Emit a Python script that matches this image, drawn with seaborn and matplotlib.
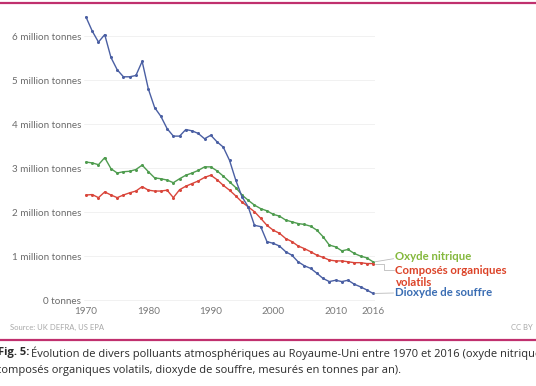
import matplotlib
matplotlib.use("Agg")
import matplotlib.pyplot as plt
import numpy as np
import pandas as pd
import seaborn as sns

# emissions, million tonnes per year (UK, 1970-2016)
years = list(range(1970, 2017))
oxyde_nitrique = [3.14, 3.12, 3.08, 3.24, 2.99, 2.89, 2.92, 2.93, 2.97, 3.07,
                  2.92, 2.78, 2.76, 2.73, 2.67, 2.76, 2.84, 2.89, 2.95, 3.03,
                  3.03, 2.94, 2.82, 2.69, 2.56, 2.39, 2.27, 2.16, 2.08, 2.03,
                  1.95, 1.91, 1.82, 1.78, 1.74, 1.72, 1.68, 1.59, 1.44, 1.25,
                  1.21, 1.12, 1.15, 1.06, 1.00, 0.96, 0.87]
composes_organiques = [2.39, 2.40, 2.33, 2.46, 2.39, 2.33, 2.39, 2.44, 2.48, 2.58,
                       2.50, 2.48, 2.48, 2.50, 2.33, 2.51, 2.59, 2.65, 2.71, 2.79,
                       2.84, 2.74, 2.61, 2.50, 2.37, 2.23, 2.12, 2.01, 1.86, 1.70,
                       1.59, 1.52, 1.40, 1.33, 1.23, 1.17, 1.10, 1.02, 0.97, 0.91,
                       0.89, 0.89, 0.87, 0.85, 0.85, 0.83, 0.83]
dioxyde_souffre = [6.44, 6.12, 5.87, 6.04, 5.52, 5.24, 5.08, 5.08, 5.11, 5.43,
                   4.80, 4.38, 4.18, 3.90, 3.73, 3.73, 3.88, 3.85, 3.79, 3.67,
                   3.75, 3.60, 3.48, 3.18, 2.73, 2.35, 2.12, 1.70, 1.67, 1.33,
                   1.29, 1.23, 1.10, 1.02, 0.87, 0.78, 0.72, 0.61, 0.49, 0.42,
                   0.45, 0.42, 0.45, 0.36, 0.30, 0.23, 0.15]

series_names = ["Oxyde nitrique", "Composés organiques volatils", "Dioxyde de souffre"]
line_colors = ["#4f9c4f", "#d9463b", "#4a5fa3"]
label_colors = ["#84b83c", "#dc4328", "#3a6db3"]
y_ticks = [0, 1, 2, 3, 4, 5, 6]
y_tick_labels = ["0 tonnes", "1 million tonnes", "2 million tonnes", "3 million tonnes",
                 "4 million tonnes", "5 million tonnes", "6 million tonnes"]
x_ticks = [1970, 1980, 1990, 2000, 2010, 2016]

df = pd.DataFrame({
    "year": years * 3,
    "value": oxyde_nitrique + composes_organiques + dioxyde_souffre,
    "serie": [series_names[0]] * len(years) + [series_names[1]] * len(years)
             + [series_names[2]] * len(years),
})

sns.set_style("white")
plt.rcParams["font.family"] = ["Lato", "DejaVu Sans"]

W, H = 536, 386
fig = plt.figure(figsize=(W / 100, H / 100), dpi=100)
fig.patch.set_facecolor("white")

# axes: x 84..375 px, y 10..302 px
ax = fig.add_axes([84 / W, 1 - 302 / H, (375 - 84) / W, (302 - 10) / H])
sns.lineplot(data=df, x="year", y="value", hue="serie", hue_order=series_names,
             palette=line_colors, marker="o", markersize=2.2, markeredgewidth=0,
             linewidth=1.0, legend=False, ax=ax)

ax.set_xlim(1969.68, 2016.32)
ax.set_ylim(-0.045, 6.6)
ax.set_yticks(y_ticks)
ax.set_yticklabels(y_tick_labels)
ax.set_xticks(x_ticks)
ax.set_xticklabels([str(t) for t in x_ticks])
ax.tick_params(axis="y", length=0, pad=2, labelsize=7.1, labelcolor="#6b6b6b")
ax.tick_params(axis="x", length=0, pad=3.5, labelsize=7.2, labelcolor="#7a7a7a")
ax.set_xlabel("")
ax.set_ylabel("")
ax.grid(axis="y", color="#efefef", linewidth=0.6)
for s in ax.spines.values():
    s.set_visible(False)

# end-of-line labels with gray connectors
ends = [oxyde_nitrique[-1], composes_organiques[-1], dioxyde_souffre[-1]]
lab_x = 2019.6
lab_y = [0.98, 0.68, 0.16]
ax.plot([2016.3, 2019.3], [ends[0], lab_y[0] - 0.04], color="#bbbbbb", lw=0.6, clip_on=False)
ax.plot([2016.3, 2017.8, 2017.8, 2019.3], [ends[1], ends[1], lab_y[1], lab_y[1]],
        color="#bbbbbb", lw=0.6, clip_on=False)
ax.plot([2016.3, 2019.3], [ends[2], lab_y[2]], color="#bbbbbb", lw=0.6, clip_on=False)
lab_kw = dict(fontsize=8.2, fontweight="bold", va="center", ha="left", clip_on=False)
ax.text(lab_x, lab_y[0], "Oxyde nitrique", color=label_colors[0], **lab_kw)
ax.text(lab_x, lab_y[1], "Composés organiques", color=label_colors[1], **lab_kw)
ax.text(lab_x, lab_y[1] - 0.28, "volatils", color=label_colors[1], **lab_kw)
ax.text(lab_x, lab_y[2], "Dioxyde de souffre", color=label_colors[2], **lab_kw)

# source / licence
fig.text(10 / W, 1 - 327 / H, "Source: UK DEFRA, US EPA", fontsize=5.5,
         color="#a8a8a8", va="center", ha="left")
fig.text(533 / W, 1 - 327 / H, "CC BY", fontsize=5.5, color="#a8a8a8",
         va="center", ha="right")

# magenta rules
for yp in (3, 340):
    fig.add_artist(plt.Line2D([0, 1], [1 - yp / H, 1 - yp / H], color="#c0306e",
                              linewidth=1.6, transform=fig.transFigure))

# caption
cap_font = ["Open Sans", "DejaVu Sans"]
cap_size = 8.0
fig.text(-2 / W, 1 - 353 / H, "Fig. 5:", fontsize=cap_size, fontweight="bold",
         color="#2b2b2b", va="center", ha="left", family=cap_font)
fig.text(31 / W, 1 - 353 / H,
         "Évolution de divers polluants atmosphériques au Royaume-Uni entre 1970 et 2016 (oxyde nitrique,",
         fontsize=cap_size, color="#2b2b2b", va="center", ha="left", family=cap_font)
fig.text(-4 / W, 1 - 371 / H,
         "composés organiques volatils, dioxyde de souffre, mesurés en tonnes par an).",
         fontsize=cap_size, color="#2b2b2b", va="center", ha="left", family=cap_font)

fig.savefig("out.png", dpi=100, facecolor="white")
